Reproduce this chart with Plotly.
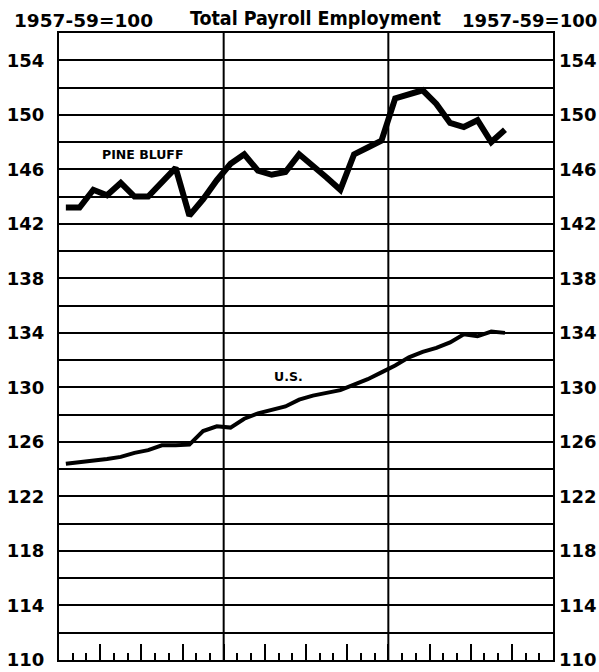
import plotly.graph_objects as go

# Month index (1 = first month of the 3-year span), values 1957-59=100
months = list(range(1, 34))
pine_bluff = [143.2, 143.2, 144.5, 144.1, 145.0, 144.0, 144.0, 145.1, 146.1, 142.6,
              143.8, 145.2, 146.4, 147.1, 145.9, 145.6, 145.8, 147.1, 146.3, 145.4,
              144.5, 147.1, 147.6, 148.1, 151.2, 151.5, 151.8, 150.8, 149.4, 149.1,
              149.6, 148.0, 148.9]
us = [124.4, 124.5, 124.6, 124.75, 124.9, 125.2, 125.4, 125.75, 125.75, 125.8,
      126.8, 127.15, 127.05, 127.7, 128.1, 128.35, 128.6, 129.1, 129.4, 129.6,
      129.8, 130.2, 130.6, 131.1, 131.6, 132.2, 132.6, 132.9, 133.3, 133.9,
      133.75, 134.1, 134.0]
y_ticks = list(range(110, 155, 4))
year_breaks = [12, 24]
total_months = 36

x_pos = [m - 0.5 for m in months]
FONT = "DejaVu Sans"
COND = "DejaVu Sans Condensed, Roboto Condensed, Liberation Sans Narrow, Roboto, sans-serif"

fig = go.Figure()
fig.add_trace(go.Scatter(x=x_pos, y=pine_bluff, mode="lines",
                         line=dict(color="black", width=6), showlegend=False))
fig.add_trace(go.Scatter(x=x_pos, y=us, mode="lines",
                         line=dict(color="black", width=4), showlegend=False))
# invisible trace for right axis
fig.add_trace(go.Scatter(x=[0], y=[110], yaxis="y2", mode="markers",
                         marker=dict(opacity=0), showlegend=False, hoverinfo="skip"))

yr = [110, 156]
fig.update_layout(
    width=599, height=672,
    margin=dict(l=59, r=46, t=33, b=12, autoexpand=False),
    plot_bgcolor="white", paper_bgcolor="white",
    xaxis=dict(range=[0, total_months], showgrid=False, zeroline=False, automargin=False,
               showline=True, linecolor="black", linewidth=2, mirror=True,
               tickmode="array", tickvals=list(range(3, total_months, 3)),
               ticks="inside", ticklen=16, tickwidth=1.5, tickcolor="black",
               showticklabels=False,
               minor=dict(tickmode="linear", tick0=0, dtick=1, ticks="inside",
                          ticklen=7, tickwidth=1.5, tickcolor="black")),
    yaxis=dict(range=yr, tickmode="array", tickvals=y_ticks, automargin=False,
               showgrid=True, gridcolor="black", gridwidth=1.5, zeroline=False,
               showline=True, linecolor="black", linewidth=2, mirror=True,
               ticks="", ticklabelstandoff=9,
               tickfont=dict(family=FONT, size=18, color="black", weight="bold"),
               minor=dict(tickmode="linear", tick0=110, dtick=2, showgrid=True,
                          gridcolor="black", gridwidth=1.5)),
    yaxis2=dict(range=yr, overlaying="y", side="right", tickmode="array", automargin=False,
                tickvals=y_ticks, showgrid=False, zeroline=False, ticks="",
                ticklabelstandoff=5,
                tickfont=dict(family=FONT, size=18, color="black", weight="bold")),
)

for b in year_breaks:
    fig.add_shape(type="line", x0=b, x1=b, y0=0, y1=1, xref="x", yref="paper",
                  line=dict(color="black", width=2))

fig.add_annotation(text="1957-59=100", xref="paper", yref="paper", x=-0.0953, y=1.0207,
                   xanchor="left", yanchor="middle", showarrow=False,
                   font=dict(family=FONT, size=18.5, color="black", weight="bold"))
fig.add_annotation(text="1957-59=100", xref="paper", yref="paper", x=1.0933, y=1.0207,
                   xanchor="right", yanchor="middle", showarrow=False,
                   font=dict(family=FONT, size=18, color="black", weight="bold"))
fig.add_annotation(text="Total Payroll Employment", xref="paper", yref="paper",
                   x=0.519, y=1.023, xanchor="center", yanchor="middle", showarrow=False,
                   font=dict(family=COND, size=19.5, color="black", weight="bold"))
fig.add_annotation(text="PINE BLUFF", x=6.06, y=147.1, xref="x", yref="y",
                   showarrow=False, font=dict(family=FONT, size=12.5, color="black", weight="bold"))
fig.add_annotation(text="U.S.", x=16.7, y=130.8, xref="x", yref="y",
                   showarrow=False, font=dict(family=FONT, size=12.5, color="black", weight="bold"))

fig.write_html("out.html", config={"displayModeBar": False},
               post_script="document.body.style.margin='0';")
